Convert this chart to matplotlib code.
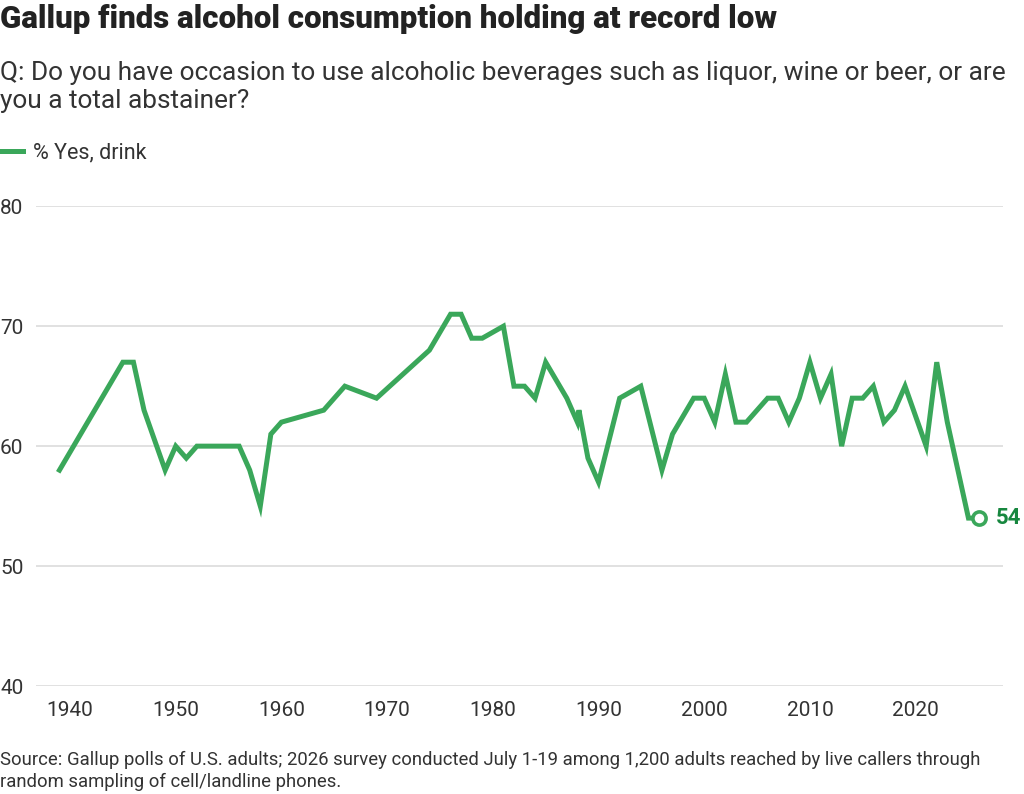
import matplotlib
matplotlib.use('Agg')
import matplotlib.pyplot as plt

# Gallup: "Do you have occasion to use alcoholic beverages...?" % yes
years = [1939, 1945, 1946, 1947, 1949, 1950, 1951, 1952, 1956, 1957,
         1958, 1959, 1960, 1964, 1966, 1969, 1974, 1976, 1977, 1978,
         1979, 1981, 1982, 1983, 1984, 1985, 1987, 1988, 1988.15, 1989,
         1990, 1992, 1994, 1996, 1997, 1999, 2000, 2001, 2002, 2003,
         2004, 2006, 2007, 2008, 2009, 2010, 2011, 2012, 2013, 2014,
         2015, 2016, 2017, 2018, 2019, 2021, 2022, 2023, 2025, 2026]
pct_drink = [58, 67, 67, 63, 58, 60, 59, 60, 60, 58,
             55, 61, 62, 63, 65, 64, 68, 71, 71, 69,
             69, 70, 65, 65, 64, 67, 64, 62, 63, 59,
             57, 64, 65, 58, 61, 64, 64, 62, 66, 62,
             62, 64, 64, 62, 64, 67, 64, 66, 60, 64,
             64, 65, 62, 63, 65, 60, 67, 62, 54, 54]
yticks = [40, 50, 60, 70, 80]
xticks = [1940, 1950, 1960, 1970, 1980, 1990, 2000, 2010, 2020]

title = 'Gallup finds alcohol consumption holding at record low'
subtitle = ['Q: Do you have occasion to use alcoholic beverages such as liquor, wine or beer, or are',
            'you a total abstainer?']
source = ['Source: Gallup polls of U.S. adults; 2026 survey conducted July 1-19 among 1,200 adults reached by live callers through',
          'random sampling of cell/landline phones.']

green = '#3aa75a'
label_green = '#17873f'
text_col = '#333333'

plt.rcParams['font.family'] = ['Roboto', 'DejaVu Sans']

W, H = 1024, 794
fig = plt.figure(figsize=(W / 100, H / 100), dpi=100)
ax = fig.add_axes([36 / W, 1 - 686 / H, (1002.7 - 36) / W, (686 - 206.3) / H])

ax.plot(years, pct_drink, color=green, lw=3.6, solid_joinstyle='miter',
        label='% Yes, drink', zorder=3)
ax.plot(years[-1], pct_drink[-1], 'o', ms=9.5, mfc='white', mec=green,
        mew=2.6, zorder=4)
ax.annotate(str(pct_drink[-1]), (years[-1], pct_drink[-1]),
            xytext=(12, 0), textcoords='offset points', va='center',
            ha='left', color=label_green, fontsize=16, fontweight='bold')

ax.set_xlim(1936.78, 2028.24)
ax.set_ylim(40, 80)
ax.set_yticks(yticks)
ax.set_xticks(xticks)
ax.grid(axis='y', color='#dcdcdc', lw=1.2)
ax.set_axisbelow(True)
for s in ax.spines.values():
    s.set_visible(False)
ax.tick_params(axis='both', length=0, labelsize=15, labelcolor=text_col)
ax.tick_params(axis='y', pad=25.9)
ax.tick_params(axis='x', pad=10.5)
for lbl in ax.get_yticklabels():
    lbl.set_ha('left')

fig.text(0, 1 - 28.3 / H, title, fontsize=22.5, fontweight='black',
         color='#222222', va='baseline', ha='left')
for i, line in enumerate(subtitle):
    fig.text(0, 1 - (80 + 28.3 * i) / H, line, fontsize=18.95, color=text_col,
             va='baseline', ha='left')

leg = ax.legend(loc='center left', bbox_to_anchor=(0, 1 - 153 / H),
                bbox_transform=fig.transFigure, frameon=False, borderaxespad=0,
                borderpad=0, handlelength=1.05, handletextpad=0.5,
                prop={'size': 15.5})
for t in leg.get_texts():
    t.set_color(text_col)

for i, line in enumerate(source):
    fig.text(0, 1 - (765 + 22 * i) / H, line, fontsize=13.3, color=text_col,
             va='baseline', ha='left')

fig.savefig('out.png', dpi=100)
